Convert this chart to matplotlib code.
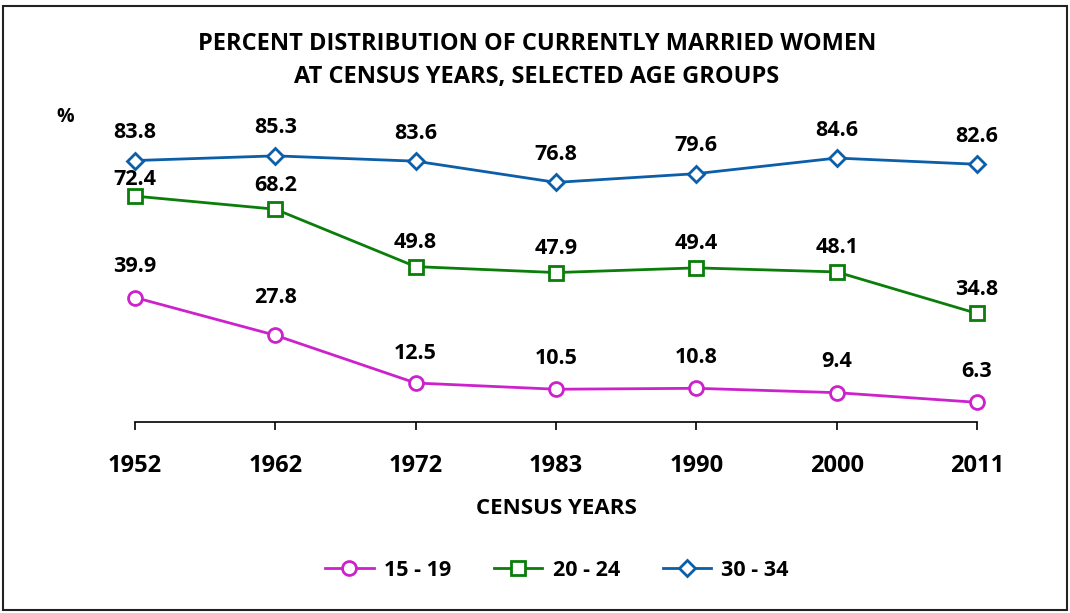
import matplotlib
matplotlib.use("Agg")
import matplotlib.pyplot as plt
from matplotlib.patches import Rectangle

years = ["1952", "1962", "1972", "1983", "1990", "2000", "2011"]
age_15_19 = [39.9, 27.8, 12.5, 10.5, 10.8, 9.4, 6.3]
age_20_24 = [72.4, 68.2, 49.8, 47.9, 49.4, 48.1, 34.8]
age_30_34 = [83.8, 85.3, 83.6, 76.8, 79.6, 84.6, 82.6]
series_names = ["15 - 19", "20 - 24", "30 - 34"]

FONT = "Open Sans"
plt.rcParams['font.family'] = [FONT, 'DejaVu Sans']

fig = plt.figure(figsize=(10.70, 6.13), dpi=100)
W, H = 1070, 613
ax = fig.add_axes([135 / W, 1 - 422 / H, (977 - 135) / W, (422 - 110) / H])

x = list(range(len(years)))
colors = ["#CC22CC", "#0A7D0A", "#0B5EA8"]
markers = ["o", "s", "D"]
msizes = [10, 10, 8]
series = [age_15_19, age_20_24, age_30_34]
# label offsets in pixels above the point (style only)
offsets = [[31, 38, 30, 31, 31, 31, 31],
           [17, 24, 24, 24, 24, 24, 24],
           [28, 28, 28, 28, 28, 28, 28]]

for vals, c, m, ms, name, offs in zip(series, colors, markers, msizes, series_names, offsets):
    ax.plot(x, vals, color=c, lw=2.0, marker=m, markersize=ms,
            markerfacecolor="white", markeredgecolor=c, markeredgewidth=2.0,
            label=name, zorder=3, clip_on=False)
    for xi, v, o in zip(x, vals, offs):
        ax.annotate(f"{v:.1f}", (xi, v), xytext=(0, o * 0.72), textcoords="offset points",
                    ha="center", va="center", fontsize=15.5, fontweight="bold",
                    color="black")

ax.set_xlim(0, len(years) - 1)
ax.set_ylim(0, 100)
ax.set_xticks(x)
ax.set_xticklabels(years, fontsize=17, fontweight="bold")
ax.tick_params(axis="x", direction="out", length=6, width=1.2, pad=17, colors="black")
ax.set_yticks([])
for s in ["top", "right", "left"]:
    ax.spines[s].set_visible(False)
ax.spines["bottom"].set_linewidth(1.2)
ax.patch.set_alpha(0)

fig.text(537 / W, 1 - 44 / H, "PERCENT DISTRIBUTION OF CURRENTLY MARRIED WOMEN",
         ha="center", va="center", fontsize=17, fontweight="bold")
fig.text(537 / W, 1 - 77 / H, "AT CENSUS YEARS, SELECTED AGE GROUPS",
         ha="center", va="center", fontsize=17, fontweight="bold")
fig.text(65 / W, 1 - 117 / H, "%", ha="center", va="center", fontsize=14, fontweight="bold")
fig.text(556 / W, 1 - 509 / H, "CENSUS YEARS", ha="center", va="center",
         fontsize=16, fontweight="bold")

leg = fig.legend(loc="center", bbox_to_anchor=(557 / W, 1 - 570 / H), ncol=3,
                 frameon=False, prop={"size": 15.5, "weight": "bold"},
                 handlelength=2.25, columnspacing=2.0, handletextpad=0.47)

fig.patches.append(Rectangle((3 / W, 3 / H), (1064) / W, (604) / H,
                             transform=fig.transFigure, fill=False,
                             edgecolor="#222222", lw=1.5))

fig.savefig("out.png", dpi=100)
